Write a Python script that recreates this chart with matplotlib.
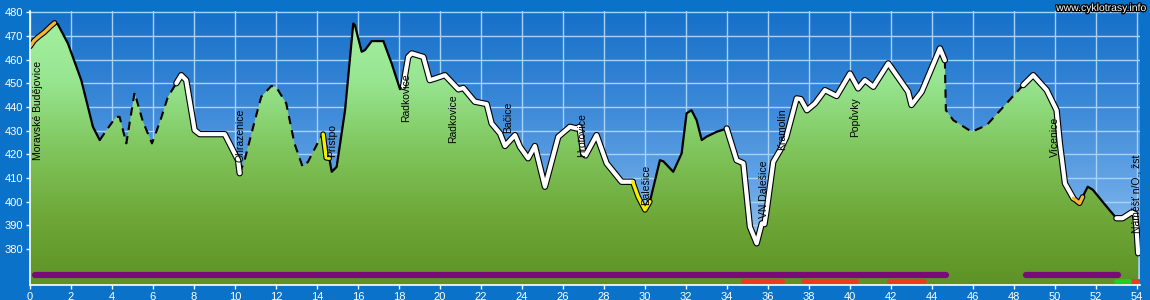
import matplotlib
matplotlib.use("Agg")
import matplotlib.pyplot as plt
import matplotlib.patheffects as pe
from matplotlib.colors import LinearSegmentedColormap
from matplotlib.patches import Polygon
import numpy as np

# elevation profile (km, m a.s.l.)
km = [0.0, 0.2, 0.4, 0.7, 1.0, 1.2, 1.35, 1.85, 2.5, 3.07, 3.4, 3.8, 4.2, 4.37, 4.7,
      5.1, 5.5, 5.95, 6.35, 6.73, 7.14, 7.38, 7.62, 8.03, 8.28, 9.5, 10.15, 10.23,
      10.47, 10.9, 11.28, 11.77, 12.0, 12.5, 12.9, 13.3, 13.56, 14.15, 14.3, 14.45,
      14.6, 14.72, 14.96, 15.37, 15.77, 15.85, 16.18, 16.34, 16.67, 17.24, 17.64,
      18.05, 18.2, 18.45, 18.62, 19.19, 19.5, 19.76, 20.24, 20.9, 21.14, 21.7, 22.28,
      22.52, 22.93, 23.17, 23.66, 23.9, 24.3, 24.63, 25.12, 25.77, 26.34, 26.67, 26.8,
      26.99, 27.1, 27.64, 28.13, 28.86, 29.4, 29.67, 30.0, 30.24, 30.73, 30.9, 31.38,
      31.79, 32.03, 32.27, 32.52, 32.77, 33.0, 33.5, 33.99, 34.47, 34.8, 35.12, 35.45,
      35.7, 35.83, 35.94, 36.26, 36.6, 36.9, 37.4, 37.6, 37.9, 38.3, 38.78, 39.35,
      40.0, 40.4, 40.73, 41.14, 41.87, 42.84, 43.0, 43.5, 44.39, 44.63, 44.68, 45.04,
      45.94, 46.67, 47.64, 48.45, 48.94, 49.6, 50.08, 50.24, 50.49, 50.9, 51.2, 51.35,
      51.6, 51.85, 52.52, 53.0, 53.3, 53.75, 53.9, 53.98, 54.06]
elev = [465.5, 468, 469.5, 471.5, 474, 475.5, 475, 466.8, 451.3, 431.6, 426, 431, 435.8,
        435.8, 424.6, 446, 434, 424.6, 434, 444.3, 450, 453.4, 451.3, 430.2, 428.5,
        428.5, 417.5, 412, 417.5, 432, 444.3, 448.8, 448.5, 441.5, 424.6, 414.7, 416.8,
        426.7, 428.5, 418.5, 418.3, 412.6, 414.7, 438.6, 475.2, 474.5, 463.3, 464,
        467.8, 467.8, 458.4, 447.5, 448.5, 461.1, 462.6, 461.1, 451.3, 452, 453.4,
        447.4, 448, 442.2, 441.2, 433, 428.8, 423.5, 428.1, 423.2, 418.3, 423.5, 406.3,
        427.4, 431.6, 430.9, 431.6, 420.4, 419.5, 428.1, 416.2, 408.4, 408.4, 402,
        396.5, 400, 417.5, 417, 412.6, 420.4, 437.3, 438.6, 434.4, 426, 427.4, 429.5,
        430.9, 417.5, 416.2, 389.4, 382.4, 390.8, 390.5, 396.5, 416.8, 421.8, 427.4,
        443.6, 443.3, 438.6, 441.5, 447.1, 444.6, 454.1, 447.8, 451.3, 448.5, 458.4,
        446.4, 440.8, 446.4, 464.7, 459.7, 438.6, 434.4, 429.5, 432.3, 441.5, 449.2,
        453.4, 447.1, 438.6, 424.6, 407.7, 401.4, 399.3, 402, 406.3, 405, 397.9, 393,
        393, 395.5, 395, 389, 378.2]

# route segments: start km, end km, surface kind
seg_start = [0.0, 1.2, 3.4, 7.14, 10.23, 14.3, 14.6, 18.2, 29.4, 30.24, 33.99, 44.63, 48.45, 50.9, 51.35, 53.0]
seg_end = [1.2, 3.4, 7.14, 10.23, 14.3, 14.6, 18.2, 29.4, 30.24, 33.99, 44.63, 48.45, 50.9, 51.35, 53.0, 54.06]
seg_kind = ["orange", "solid", "dashed", "white", "dashed", "yellow", "solid", "white",
            "yellow", "solid", "white", "dashed", "white", "orange", "solid", "white"]

# place names
place_names = ["Moravské Budějovice", "Ohrazenice", "Přístpo", "Radkovice", "Radkovice",
               "Bačice", "Hrotovice", "Dalešice", "VN Dalešice", "Kramolín", "Popůvky",
               "Vícenice", "Náměšť n/O., žst"]
place_km = [0.39, 10.28, 14.72, 18.37, 20.65, 23.33, 26.93, 30.08, 35.82, 36.67, 40.24, 50.0, 53.98]
place_elev = [417.6, 416.7, 419, 433.7, 424.6, 428.8, 419, 398.6, 393, 421.8, 427.4, 419, 386.6]

# bars below the profile
purple_from = [0.25, 48.6]
purple_to = [44.7, 53.1]
red_from = [34.8, 37.7, 41.9, 53.75]
red_to = [36.7, 40.3, 43.6, 54.15]
green_from = [53.0]
green_to = [53.6]

XMAX, YMIN, YMAX = 54.15, 364.8, 480.5
FONT = "Liberation Sans"

fig = plt.figure(figsize=(11.5, 3.0), dpi=100, facecolor="#0a72c8")
ax = fig.add_axes([30 / 1150, 1 - 285 / 300, 1110 / 1150, 274 / 300])
ax.set_xlim(0, XMAX)
ax.set_ylim(YMIN, YMAX)

# sky gradient
sky = LinearSegmentedColormap.from_list("sky", ["#b6d6f4", "#6aa8e6", "#3a88d8", "#1670c8"])
grad = np.linspace(0, 1, 256).reshape(-1, 1)
ax.imshow(grad, cmap=sky, origin="lower", aspect="auto",
          extent=[0, XMAX, YMIN, YMAX], zorder=0)

# grid
for gx in range(0, 56, 2):
    ax.axvline(gx, color="#a6d2ff", lw=1, zorder=1)
for gy in range(380, 481, 10):
    ax.axhline(gy, color="#a6d2ff", lw=1, zorder=1)

# green fill clipped to profile
verts = list(zip(km, elev)) + [(km[-1], YMIN), (km[0], YMIN)]
poly = Polygon(verts, closed=True, facecolor="none", edgecolor="none", transform=ax.transData)
ax.add_patch(poly)
grass = LinearSegmentedColormap.from_list("grass", ["#5e9226", "#6ea838", "#80c65e", "#98e692", "#a4f0a0"])
im = ax.imshow(grad, cmap=grass, origin="lower", aspect="auto",
               extent=[0, XMAX, YMIN, YMAX], zorder=2)
im.set_clip_path(poly)

km_a = np.array(km)
el_a = np.array(elev)
rnd = dict(solid_capstyle="round", solid_joinstyle="round")
for s, e, kind in zip(seg_start, seg_end, seg_kind):
    m = (km_a >= s - 1e-6) & (km_a <= e + 1e-6)
    x, y = km_a[m], el_a[m]
    if kind == "solid":
        ax.plot(x, y, color="black", lw=1.6, zorder=4, **rnd)
    elif kind == "dashed":
        ax.plot(x, y, color="black", lw=1.5, ls=(0, (4, 3)), zorder=4, dash_joinstyle="round")
    elif kind == "white":
        ax.plot(x, y, color="black", lw=4.6, zorder=4, **rnd)
        ax.plot(x, y, color="white", lw=3.0, zorder=5, **rnd)
    else:
        c = "#f2b632" if kind == "orange" else "#f4f000"
        ax.plot(x, y, color="black", lw=4.0, zorder=4, **rnd)
        ax.plot(x, y, color=c, lw=2.4, zorder=5, **rnd)

for name, px, py in zip(place_names, place_km, place_elev):
    ax.text(px, py, name, rotation=90, ha="center", va="bottom", fontsize=7.5,
            family=FONT, color="black", zorder=6)

# bars
for a, b in zip(purple_from, purple_to):
    ax.plot([a, b], [368.9, 368.9], color="#7a0a7a", lw=4.5, solid_capstyle="round", zorder=3)
for a, b in zip(red_from, red_to):
    ax.plot([a, b], [366.4, 366.4], color="#ee3a22", lw=3.5, solid_capstyle="round", zorder=3)
for a, b in zip(green_from, green_to):
    ax.plot([a, b], [366.4, 366.4], color="#22cc22", lw=3.5, solid_capstyle="round", zorder=3)

ax.set_xticks(range(0, 55, 2))
ax.set_yticks(range(380, 481, 10))
ax.tick_params(colors="white", labelsize=8, length=3, width=1, pad=2)
for lab in ax.get_xticklabels() + ax.get_yticklabels():
    lab.set_family(FONT)
for side in ["top", "right"]:
    ax.spines[side].set_visible(False)
for side in ["left", "bottom"]:
    ax.spines[side].set_color("white")
    ax.spines[side].set_linewidth(1.2)
    ax.spines[side].set_zorder(7)

fig.text(1146 / 1150, 1 - 8 / 300, "www.cyklotrasy.info", ha="right", va="center",
         fontsize=7.5, family=FONT, color="white",
         path_effects=[pe.withStroke(linewidth=1.8, foreground="black")])

fig.savefig("out.png", dpi=100, facecolor=fig.get_facecolor())
